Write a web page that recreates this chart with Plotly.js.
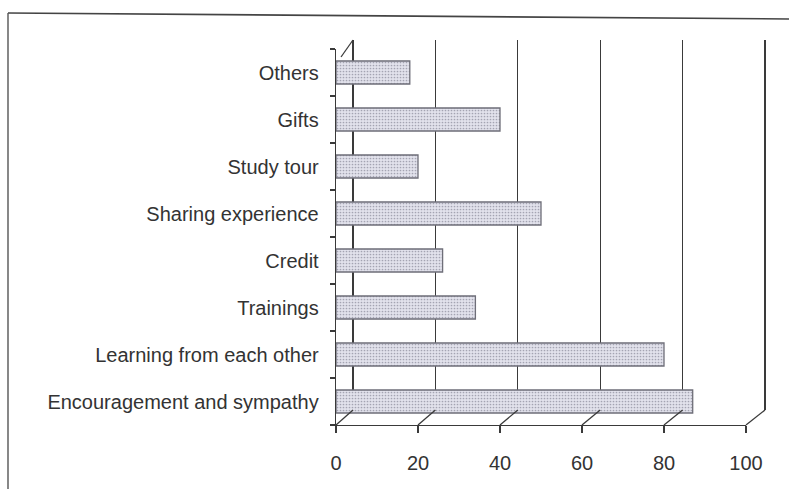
<!DOCTYPE html>
<html>
<head>
<meta charset="utf-8">
<script src="https://cdn.plot.ly/plotly-3.0.1.min.js"></script>
<style>
  html, body { margin: 0; padding: 0; background: #ffffff; }
  #chart { width: 789px; height: 489px; }
</style>
</head>
<body>
<div id="chart"></div>
<script>
// Support measures, in percent
const categories = [
  "Encouragement and sympathy",
  "Learning from each other",
  "Trainings",
  "Credit",
  "Sharing experience",
  "Study tour",
  "Gifts",
  "Others"
];
const values = [87, 80, 34, 26, 50, 20, 40, 18];
const xTicks = [0, 20, 40, 60, 80, 100];

const W = 789, H = 489;
const px = v => v / W;          // pixel x -> paper
const py = v => (H - v) / H;    // pixel y -> paper

// front plane (bars, axes) and back wall (grid) of the pseudo-3D box
const front = { x0: 336, x1: 746, yTop: 49, yBot: 425 };
const back  = { x0: 353, x1: 765, yTop: 40, yBot: 410 };

const ink = "#3a3a3a";
const font = { family: "Liberation Sans, Arial, sans-serif", size: 20, color: "#333333" };

const bars = {
  type: "bar",
  orientation: "h",
  x: values,
  y: categories,
  xaxis: "x2",
  yaxis: "y2",
  width: 0.49,
  marker: {
    color: "#dcdce6",
    line: { color: "#6e6e78", width: 1.3 },
    pattern: { shape: ".", size: 3, solidity: 0.25, fgcolor: "#a4a4b2", bgcolor: "#e2e2ec", fillmode: "replace" }
  },
  hoverinfo: "x+y",
  showlegend: false
};

// empty trace so the back-wall subplot is laid out
const wall = {
  type: "scatter", mode: "none", x: [0, 100], y: [0, 1],
  xaxis: "x", yaxis: "y", hoverinfo: "skip", showlegend: false
};

const shapes = [];
const fx = v => px(front.x0 + (front.x1 - front.x0) * v / 100);
const bx = v => px(back.x0 + (back.x1 - back.x0) * v / 100);
// left edge of the back wall, kept beneath the bars
shapes.push({ type: "line", xref: "paper", yref: "paper", layer: "between",
  x0: bx(0), y0: py(back.yBot), x1: bx(0), y1: py(back.yTop),
  line: { color: ink, width: 1.4 } });
// floor edges joining each front tick to its gridline on the back wall
xTicks.forEach(v => {
  shapes.push({ type: "line", xref: "paper", yref: "paper",
    x0: fx(v), y0: py(front.yBot), x1: bx(v), y1: py(back.yBot),
    line: { color: ink, width: 1.3 } });
});
// top-left edge of the box
shapes.push({ type: "line", xref: "paper", yref: "paper",
  x0: fx(0) + px(5), y0: py(57), x1: bx(0), y1: py(back.yTop),
  line: { color: ink, width: 1.3 } });
// outer frame
shapes.push({ type: "line", xref: "paper", yref: "paper",
  x0: px(8), y0: py(13), x1: px(789), y1: py(19), line: { color: "#444", width: 1.6 } });
shapes.push({ type: "line", xref: "paper", yref: "paper",
  x0: px(8), y0: py(13), x1: px(8), y1: 0, line: { color: "#555", width: 1.4 } });

// back wall range is padded a little so the 100 gridline is drawn
const pad = 0.3;
const scale = (back.x1 - back.x0) / 100;

const layout = {
  width: W, height: H,
  margin: { l: 0, r: 0, t: 0, b: 0, pad: 0 },
  paper_bgcolor: "#ffffff",
  plot_bgcolor: "rgba(0,0,0,0)",
  font: font,
  showlegend: false,
  // back wall
  xaxis: {
    domain: [px(back.x0 - pad * scale), px(back.x1 + pad * scale)], range: [-pad, 100 + pad], anchor: "y",
    tickvals: xTicks, showticklabels: false, ticks: "",
    showgrid: true, gridcolor: ink, gridwidth: 1.3,
    zeroline: false, showline: false, fixedrange: true
  },
  yaxis: {
    domain: [py(back.yBot), py(back.yTop)], range: [0, 1], anchor: "x",
    showgrid: false, showticklabels: false, zeroline: false, showline: false, fixedrange: true
  },
  // front plane with bars
  xaxis2: {
    domain: [px(front.x0), px(front.x1)], range: [0, 100], anchor: "y2",
    tickvals: xTicks, ticktext: xTicks.map(String),
    ticks: "outside", ticklen: 7, tickwidth: 1.3, tickcolor: ink,
    ticklabelstandoff: 13,
    showline: true, linecolor: ink, linewidth: 1.3,
    showgrid: false, zeroline: false, fixedrange: true,
    tickfont: font
  },
  yaxis2: {
    domain: [py(front.yBot), py(front.yTop)], anchor: "x2",
    type: "category", categoryorder: "array", categoryarray: categories,
    range: [-0.5, categories.length - 0.5],
    ticks: "outside", tickson: "boundaries", ticklen: 5, tickwidth: 1.3, tickcolor: ink,
    ticklabelstandoff: 12,
    showline: true, linecolor: ink, linewidth: 1.3,
    showgrid: false, zeroline: false, fixedrange: true,
    tickfont: font
  },
  shapes: shapes
};

Plotly.newPlot("chart", [wall, bars], layout, { displayModeBar: false, staticPlot: true });
</script>
</body>
</html>
